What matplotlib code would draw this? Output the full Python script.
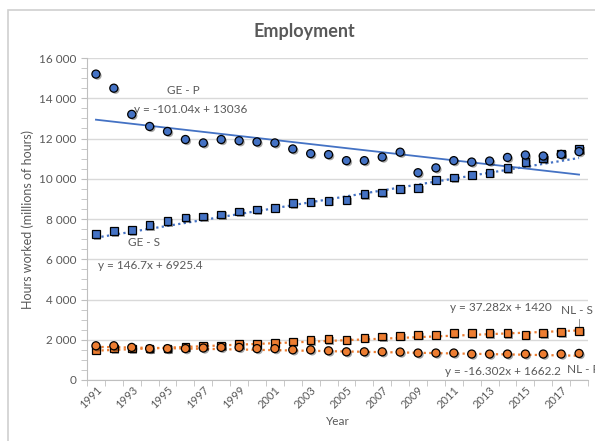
import numpy as np
import matplotlib
matplotlib.use("Agg")
import matplotlib.pyplot as plt
import matplotlib.patheffects as pe
from matplotlib.ticker import FuncFormatter, MultipleLocator
from matplotlib.patches import Rectangle

plt.rcParams['font.family'] = ['Lato', 'DejaVu Sans']

# ==============================
# Data
# ==============================
years = np.arange(1991, 2019)

ge_p = [15200, 14500, 13200, 12600, 12350, 11950, 11780, 11950, 11890, 11830,
        11780, 11480, 11250, 11200, 10900, 10900, 11080, 11320, 10300, 10540,
        10900, 10830, 10880, 11060, 11180, 11130, 11210, 11350]
ge_s = [7250, 7400, 7450, 7700, 7890, 8070, 8120, 8230, 8370, 8480,
        8550, 8780, 8850, 8900, 8950, 9240, 9310, 9490, 9540, 9940,
        10070, 10190, 10300, 10520, 10830, 11020, 11250, 11470]
nl_p = [1700, 1700, 1620, 1560, 1560, 1560, 1590, 1620, 1620, 1560,
        1560, 1500, 1500, 1450, 1400, 1400, 1400, 1390, 1340, 1340,
        1340, 1290, 1290, 1290, 1290, 1290, 1290, 1320]
nl_s = [1500, 1560, 1560, 1560, 1560, 1640, 1720, 1720, 1780, 1780,
        1830, 1910, 1980, 2030, 2000, 2100, 2160, 2200, 2240, 2240,
        2320, 2320, 2320, 2320, 2240, 2320, 2370, 2440]

# trend line coefficients as printed on the chart (x = 1..28)
trend_ge_p = (-101.04, 13036)
trend_ge_s = (146.7, 6925.4)
trend_nl_s = (37.282, 1420)
trend_nl_p = (-16.302, 1662.2)

blue = '#4472C4'
orange = '#ED7D31'
grey_txt = '#595959'

# ==============================
# Figure
# ==============================
fig = plt.figure(figsize=(5.95, 4.41), dpi=100)
fig.patches.append(Rectangle((8/595, -0.1), 1.2, 1.1 - 10/441, transform=fig.transFigure,
                             fill=False, edgecolor='#D0D0D0', linewidth=1.2))
ax = fig.add_axes([87/595, 1 - 380/441, 501/595, 322/441])

shadow = [pe.SimplePatchShadow(offset=(1.2, -1.2), shadow_rgbFace='k', alpha=0.35), pe.Normal()]

xi = np.arange(1, len(years) + 1)

def trend(coef):
    return coef[0] * xi + coef[1]

ax.plot(years, trend(trend_ge_p), color=blue, lw=1.3, zorder=2)
ax.plot(years, trend(trend_ge_s), color=blue, lw=1.6, ls=(0, (1, 1.5)), zorder=2)
ax.plot(years, trend(trend_nl_s), color=orange, lw=1.6, ls=(0, (1, 1.5)), zorder=2)
ax.plot(years, trend(trend_nl_p), color=orange, lw=1.6, ls=(0, (1, 1.5)), zorder=2)

mk = dict(ls='none', markeredgecolor='black', markeredgewidth=0.9, zorder=3, path_effects=shadow)
ax.plot(years, ge_s, marker='s', ms=5.5, markerfacecolor=blue, **mk)
ax.plot(years, ge_p, marker='o', ms=5.8, markerfacecolor=blue, **mk)
ax.plot(years, nl_s, marker='s', ms=5.5, markerfacecolor=orange, **mk)
ax.plot(years, nl_p, marker='o', ms=5.8, markerfacecolor=orange, **mk)

# ==============================
# Labels
# ==============================
lbl = dict(color=grey_txt, fontsize=8.5, va='center', ha='left', clip_on=False)
ax.text(1994.95, 14400, 'GE - P', **lbl)
ax.text(1993.1, 13450, 'y = -101.04x + 13036', **lbl)
ax.text(1992.8, 6820, 'GE - S', **lbl)
ax.text(1991.1, 5700, 'y = 146.7x + 6925.4', **lbl)
ax.text(2010.8, 3580, 'y = 37.282x + 1420', **lbl)
ax.text(2017.0, 3440, 'NL - S', **lbl)
ax.text(2010.5, 430, 'y = -16.302x + 1662.2', **lbl)
ax.text(2017.35, 540, 'NL - P', **lbl)
ax.plot([2018, 2018], [3050, 2700], color='#7F7F7F', lw=0.6, zorder=2)

fig.text(304/595, 1 - 31/441, 'Employment', ha='center', va='center',
         fontsize=13, fontweight='bold', color=grey_txt)
ax.set_ylabel('Hours worked (millions of hours)', color=grey_txt, fontsize=9, labelpad=4)
ax.set_xlabel('Year', color=grey_txt, fontsize=8.5, labelpad=4)

# ==============================
# Axes styling
# ==============================
ax.set_xlim(1990.5, 2018.5)
ax.set_ylim(0, 16000)
ax.yaxis.set_major_locator(MultipleLocator(2000))
ax.yaxis.set_minor_locator(MultipleLocator(500))
ax.yaxis.set_major_formatter(FuncFormatter(lambda v, p: f"{int(v):,}".replace(',', ' ')))
ax.set_xticks(years[::2])
ax.set_xticks(np.arange(1990.5, 2019, 1), minor=True)
ax.tick_params(axis='x', which='major', length=0, pad=3)
ax.tick_params(axis='x', which='minor', length=4, color='#BFBFBF')
ax.tick_params(axis='y', which='both', length=4, color='#BFBFBF')
ax.tick_params(axis='y', labelsize=8.5, labelcolor=grey_txt)
ax.tick_params(axis='x', labelsize=8, labelcolor=grey_txt)
for t in ax.get_xticklabels():
    t.set_rotation(45)
    t.set_ha('right')
    t.set_rotation_mode('anchor')

ax.grid(axis='y', which='major', color='#D9D9D9', lw=1)
ax.set_axisbelow(True)
for s in ['top', 'right']:
    ax.spines[s].set_visible(False)
for s in ['left', 'bottom']:
    ax.spines[s].set_color('#BFBFBF')

fig.savefig('out.png', dpi=100)
